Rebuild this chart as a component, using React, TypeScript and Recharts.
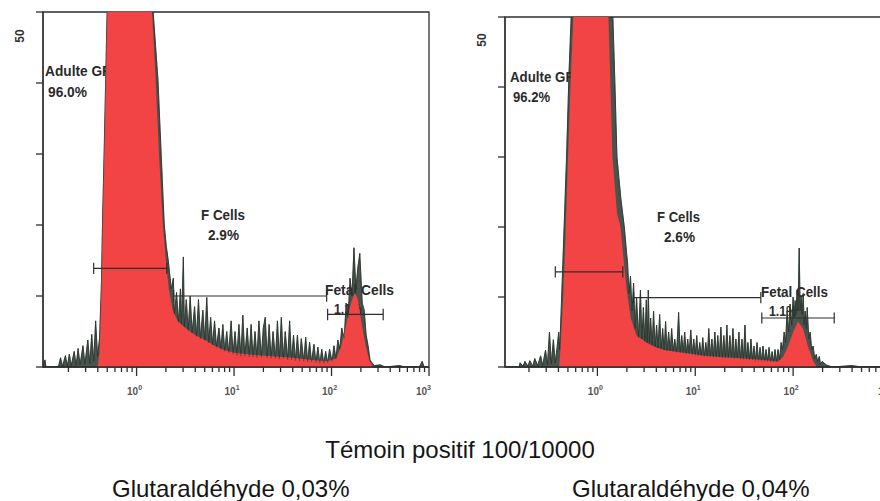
import React from 'react';
import {
  ComposedChart,
  Area,
  Line,
  XAxis,
  YAxis,
  ReferenceLine,
  ReferenceArea,
} from 'recharts';

// x = log10 of fluorescence, v = event count per channel
const LEFT_FILL: [number, number][] = [
  [-0.96, 0], [-0.4, 0], [-0.38, 2], [-0.36, 12], [-0.35, 20], [-0.33, 32], [-0.31, 45],
  [-0.29, 58], [-0.2, 85], [0, 95], [0.1, 80], [0.15, 52], [0.19, 42], [0.23, 30],
  [0.27, 20], [0.3, 15], [0.33, 11], [0.37, 8], [0.42, 6.5], [0.5, 5.5], [0.6, 4.5],
  [0.7, 3.8], [0.8, 3], [0.9, 2.4], [1.0, 2], [1.2, 1.7], [1.4, 1.5], [1.6, 1.3],
  [1.8, 1.0], [1.95, 0.8], [2.05, 1.2], [2.1, 3], [2.15, 6], [2.2, 9], [2.24, 10.5],
  [2.27, 9.5], [2.31, 6], [2.35, 3], [2.39, 0.8], [2.43, 0], [3.0, 0],
];

const LEFT_OUTLINE: [number, number][] = [
  [-0.96, 0], [-0.94, 1.0], [-0.93, 0], [-0.85, 0], [-0.8, 0.1], [-0.78, 1.3], [-0.76, 0.1],
  [-0.73, 1.6], [-0.71, 0.1], [-0.69, 1.8], [-0.67, 0.2], [-0.64, 2.2], [-0.62, 0.2],
  [-0.6, 2.6], [-0.58, 0.3], [-0.55, 3.0], [-0.53, 0.4], [-0.5, 3.8], [-0.48, 0.5],
  [-0.46, 4.6], [-0.44, 0.8], [-0.42, 6.5], [-0.4, 1.5], [-0.38, 4], [-0.36, 12],
  [-0.35, 20], [-0.33, 32], [-0.31, 45], [-0.29, 58], [-0.25, 75], [-0.2, 88], [-0.1, 95],
  [0, 98], [0.08, 90], [0.13, 70], [0.17, 50], [0.22, 40.3], [0.253, 29.7], [0.284, 20],
  [0.305, 17], [0.325, 15], [0.356, 11], [0.377, 12.5], [0.388, 7.5], [0.41, 10.5],
  [0.43, 6.3], [0.45, 11], [0.46, 6], [0.48, 15.5], [0.49, 5.7], [0.51, 9.5], [0.53, 5.2],
  [0.55, 10], [0.57, 4.8], [0.595, 8.5], [0.615, 4.3], [0.635, 9.5], [0.655, 4], [0.68, 8],
  [0.7, 3.8], [0.72, 9.8], [0.74, 3.4], [0.76, 7], [0.78, 3.1], [0.8, 6.5], [0.82, 2.8],
  [0.845, 5.5], [0.865, 2.5], [0.885, 6], [0.905, 2.2], [0.925, 5], [0.945, 2], [0.97, 6.5],
  [0.99, 1.8], [1.01, 5], [1.03, 1.6], [1.05, 6], [1.07, 1.5], [1.09, 7.3], [1.11, 1.5],
  [1.135, 5.5], [1.155, 1.4], [1.175, 6], [1.195, 1.4], [1.215, 5], [1.235, 1.3],
  [1.255, 6.5], [1.28, 1.4], [1.3, 5.5], [1.32, 7], [1.34, 1.3], [1.36, 6], [1.38, 1.2],
  [1.4, 5], [1.425, 1.2], [1.445, 6.5], [1.465, 1.1], [1.485, 7], [1.505, 1.2], [1.525, 5],
  [1.55, 1.0], [1.57, 6.5], [1.59, 1.0], [1.61, 4.5], [1.63, 0.9], [1.65, 4.5], [1.67, 0.8],
  [1.69, 4], [1.715, 0.8], [1.735, 4.2], [1.755, 0.7], [1.775, 3.5], [1.795, 0.7],
  [1.82, 3.2], [1.84, 0.6], [1.86, 2.8], [1.88, 0.5], [1.9, 2.5], [1.92, 0.5], [1.94, 2.2],
  [1.96, 0.6], [1.98, 2.5], [2.005, 0.8], [2.025, 3], [2.045, 1.2], [2.065, 3.8],
  [2.085, 2.5], [2.105, 5.5], [2.13, 4], [2.15, 9], [2.17, 7], [2.19, 12.5], [2.21, 10],
  [2.23, 16.8], [2.25, 11], [2.27, 14], [2.29, 16], [2.315, 9], [2.335, 8], [2.355, 4.5],
  [2.375, 3], [2.395, 1], [2.415, 0.6], [2.44, 0.2], [2.5, 0.3], [2.55, 0], [2.7, 0.2],
  [2.75, 0], [2.9, 0], [2.93, 0.8], [2.95, 0], [3.0, 0],
];

const RIGHT_FILL: [number, number][] = [
  [-0.944, 0], [-0.39, 0], [-0.38, 2], [-0.35, 10], [-0.33, 17], [-0.3, 30], [-0.27, 42],
  [-0.245, 50], [-0.15, 75], [0, 90], [0.08, 80], [0.113, 50], [0.154, 30], [0.2, 22],
  [0.236, 20], [0.27, 15], [0.3, 11], [0.34, 7], [0.4, 4.5], [0.5, 3.5], [0.6, 2.8],
  [0.7, 2.4], [0.9, 2], [1.1, 1.6], [1.3, 1.4], [1.5, 1.2], [1.7, 1], [1.85, 0.8],
  [1.9, 1.5], [1.95, 3], [2.0, 5], [2.05, 6.5], [2.1, 5.5], [2.15, 3], [2.2, 1],
  [2.24, 0], [3.0, 0],
];

const RIGHT_OUTLINE: [number, number][] = [
  [-0.944, 0], [-0.8, 0], [-0.79, 0.6], [-0.76, 0.1], [-0.74, 0.8], [-0.71, 0.1],
  [-0.69, 0.9], [-0.66, 0.1], [-0.64, 1.2], [-0.61, 0.2], [-0.58, 1.6], [-0.56, 0.2],
  [-0.53, 2.4], [-0.51, 0.3], [-0.49, 5], [-0.47, 0.5], [-0.45, 3.9], [-0.43, 0.6],
  [-0.41, 3], [-0.395, 5], [-0.385, 2.5], [-0.365, 10], [-0.345, 18], [-0.315, 30],
  [-0.29, 42], [-0.268, 50], [-0.2, 70], [-0.1, 85], [0, 95], [0.1, 82], [0.14, 58],
  [0.158, 50], [0.18, 40], [0.2, 30], [0.24, 24], [0.275, 20], [0.3, 16], [0.308, 15],
  [0.323, 10.5], [0.338, 13], [0.354, 8], [0.37, 12], [0.385, 5.5], [0.4, 10], [0.42, 4.2],
  [0.44, 11], [0.455, 4], [0.47, 8.5], [0.485, 3.7], [0.5, 9.6], [0.51, 3.5], [0.52, 11],
  [0.532, 3.4], [0.544, 7], [0.56, 3.1], [0.574, 8], [0.59, 2.9], [0.605, 6], [0.62, 2.7],
  [0.636, 7.5], [0.652, 2.6], [0.667, 5.5], [0.682, 2.4], [0.697, 6.5], [0.712, 2.3],
  [0.728, 5], [0.744, 2.3], [0.759, 5.5], [0.775, 2.2], [0.79, 4], [0.81, 2.1], [0.83, 7.8],
  [0.846, 2.0], [0.862, 4.5], [0.877, 2.0], [0.892, 5], [0.908, 1.9], [0.923, 4],
  [0.938, 1.9], [0.954, 5.3], [0.97, 1.8], [0.985, 4], [1.0, 1.7], [1.015, 4.5],
  [1.03, 1.6], [1.046, 3.5], [1.062, 1.6], [1.077, 4.2], [1.092, 1.5], [1.108, 3.5],
  [1.123, 1.5], [1.138, 5.5], [1.154, 1.5], [1.17, 4], [1.185, 1.4], [1.2, 5], [1.215, 1.4],
  [1.23, 4.5], [1.246, 1.4], [1.262, 5.7], [1.277, 1.3], [1.292, 4.5], [1.308, 1.3],
  [1.323, 6], [1.338, 1.3], [1.354, 4.5], [1.37, 1.3], [1.385, 5.5], [1.4, 1.2], [1.415, 4],
  [1.43, 1.2], [1.446, 5], [1.462, 1.1], [1.477, 4], [1.492, 1.1], [1.508, 6], [1.523, 1.1],
  [1.538, 3.5], [1.554, 1.0], [1.569, 4], [1.585, 1.0], [1.6, 3], [1.615, 0.9],
  [1.631, 3.5], [1.646, 0.9], [1.662, 2.8], [1.677, 0.8], [1.692, 3], [1.708, 0.8],
  [1.723, 2.5], [1.738, 0.8], [1.754, 2.8], [1.77, 0.7], [1.785, 2.2], [1.8, 0.7],
  [1.815, 2.5], [1.83, 0.8], [1.846, 2.5], [1.862, 1.0], [1.877, 3.5], [1.892, 2.5],
  [1.908, 5], [1.923, 3.5], [1.938, 8], [1.954, 5], [1.969, 9], [1.985, 6], [2.0, 10],
  [2.01, 7], [2.02, 9.5], [2.03, 8], [2.04, 11], [2.05, 8], [2.062, 17], [2.072, 8],
  [2.082, 10], [2.092, 7.5], [2.103, 10.5], [2.113, 6], [2.123, 8], [2.134, 5.5],
  [2.144, 8.5], [2.16, 4], [2.174, 5], [2.19, 2.5], [2.205, 3], [2.22, 1.2], [2.236, 1.8],
  [2.25, 0.8], [2.267, 1.5], [2.28, 0.4], [2.297, 0.8], [2.338, 0.3], [2.4, 0], [2.6, 0.2],
  [2.7, 0], [3.0, 0],
];

// gates: [from, to, level]
const LEFT_GATES: [number, number, number][] = [
  [-0.44, 0.31, 13.9],
  [0.38, 1.95, 10.0],
  [1.96, 2.53, 7.4],
];
const RIGHT_GATES: [number, number, number][] = [
  [-0.43, 0.26, 13.6],
  [0.37, 1.67, 9.9],
  [1.68, 2.42, 7.0],
];

const LEFT_LABELS = ['Adulte GR', '96.0%', 'F Cells', '2.9%', 'Fetal Cells', '1.1%'];
const RIGHT_LABELS = ['Adulte GR', '96.2%', 'F Cells', '2.6%', 'Fetal Cells', '1.1%'];

const Y_TICKS = [0, 10, 20, 30, 40, 50];
const DECADES = [0, 1, 2, 3];
const MINOR_STEPS = [2, 3, 4, 5, 6, 7, 8, 9];
const X_TICKS = [
  ...DECADES,
  ...[-1, 0, 1, 2].flatMap((d) => MINOR_STEPS.map((m) => d + Math.log10(m))),
].sort((a, b) => a - b);

const TITLE = 'Témoin positif 100/10000';
const CAPTIONS = ['Glutaraldéhyde 0,03%', 'Glutaraldéhyde 0,04%'];

const RED = '#f24444';
const DARK = '#2a362f';
const AXIS = '#2e2e2e';
const SANS = '"Liberation Sans", Arial, sans-serif';

const toPoints = (pairs: [number, number][]) => pairs.map(([x, v]) => ({ x, v }));

function LogTick(props: any) {
  const { x, y, payload, xMax } = props;
  const v = payload.value;
  const major = Math.abs(v - Math.round(v)) < 1e-6;
  const last = Math.abs(v - xMax) < 0.05;
  return (
    <g>
      <line x1={x} y1={y} x2={x} y2={y + (major ? 9 : 5)} stroke={AXIS} strokeWidth={1.3} />
      {major && (
        <text
          x={last ? x + 2 : x - 2}
          y={y + 28}
          textAnchor={last ? 'end' : 'middle'}
          fontSize={10}
          fontWeight="bold"
          fontFamily={SANS}
          fill="#555"
        >
          10
          <tspan dy={-5} fontSize={7}>{Math.round(v)}</tspan>
        </text>
      )}
    </g>
  );
}

function CountTick(props: any) {
  const { x, y } = props;
  return <line x1={x - 7} y1={y} x2={x} y2={y} stroke={AXIS} strokeWidth={1.3} />;
}

function Histogram({ fill, outline, gates, xMin, left, top }: any) {
  const fillData = toPoints(fill);
  const outlineData = toPoints(outline);
  return (
    <div style={{ position: 'absolute', left, top: 0 }}>
      <ComposedChart width={440} height={400} margin={{ top, right: 11, bottom: 3, left: 0 }}>
        <XAxis
          type="number"
          dataKey="x"
          domain={[xMin, 3]}
          allowDataOverflow
          ticks={X_TICKS.filter((t) => t >= xMin && t <= 3)}
          interval={0}
          tickSize={0}
          tickMargin={0}
          tickLine={false}
          tick={<LogTick xMax={3} />}
          height={30}
          axisLine={{ stroke: AXIS, strokeWidth: 1.3 }}
        />
        <YAxis
          type="number"
          domain={[0, 50]}
          allowDataOverflow
          ticks={Y_TICKS}
          interval={0}
          tickSize={0}
          tickMargin={0}
          tickLine={false}
          tick={<CountTick />}
          width={43}
          axisLine={{ stroke: AXIS, strokeWidth: 1.3 }}
        />
        <ReferenceArea x1={xMin} x2={3} y1={0} y2={50} fill="none" stroke={AXIS} strokeWidth={1.3} fillOpacity={0} />
        <Area
          data={outlineData}
          dataKey="v"
          type="linear"
          fill={DARK}
          fillOpacity={0.85}
          stroke={DARK}
          strokeWidth={0.9}
          isAnimationActive={false}
        />
        <Area
          data={fillData}
          dataKey="v"
          type="linear"
          fill={RED}
          fillOpacity={1}
          stroke="none"
          isAnimationActive={false}
        />
        <Line
          data={outlineData}
          dataKey="v"
          type="linear"
          stroke={DARK}
          strokeWidth={0.7}
          strokeOpacity={0.5}
          dot={false}
          isAnimationActive={false}
        />
        {gates.map(([a, b, h]: [number, number, number], i: number) => (
          <React.Fragment key={i}>
            <ReferenceLine segment={[{ x: a, y: h }, { x: b, y: h }]} stroke={AXIS} strokeWidth={1.2} />
            <ReferenceLine segment={[{ x: a, y: h - 0.8 }, { x: a, y: h + 0.8 }]} stroke={AXIS} strokeWidth={1.2} />
            <ReferenceLine segment={[{ x: b, y: h - 0.8 }, { x: b, y: h + 0.8 }]} stroke={AXIS} strokeWidth={1.2} />
          </React.Fragment>
        ))}
      </ComposedChart>
    </div>
  );
}

// [x, baseline, width]
type Spot = [number, number, number];

function PanelLabels({ labels, spots }: { labels: string[]; spots: Spot[] }) {
  return (
    <>
      {labels.map((t, i) => (
        <text
          key={i}
          x={spots[i][0]}
          y={spots[i][1]}
          textLength={spots[i][2]}
          lengthAdjust="spacingAndGlyphs"
          fontFamily={SANS}
          fontWeight="bold"
          fontSize={15}
          fill="#2a2a2a"
        >
          {t}
        </text>
      ))}
    </>
  );
}

export default function App() {
  return (
    <div
      style={{
        position: 'absolute',
        left: 0,
        top: 0,
        width: 880,
        height: 501,
        overflow: 'hidden',
        background: '#fff',
      }}
    >
      <svg width={880} height={501} style={{ position: 'absolute', left: 0, top: 0 }}>
        <text x={20} y={36} transform="rotate(-90 20 36)" textAnchor="middle" dominantBaseline="central"
          fontFamily={SANS} fontWeight="bold" fontSize={12} fill="#333">50</text>
        <text x={482} y={40} transform="rotate(-90 482 40)" textAnchor="middle" dominantBaseline="central"
          fontFamily={SANS} fontWeight="bold" fontSize={12} fill="#333">50</text>
        <PanelLabels
          labels={LEFT_LABELS}
          spots={[[45, 76, 67], [48, 97, 39], [201, 220, 44], [208, 240, 31], [325, 295, 69], [334, 314, 28]]}
        />
        <PanelLabels
          labels={RIGHT_LABELS}
          spots={[[510, 82, 65], [513, 102, 37], [657, 222, 43], [664, 242, 31], [761, 297, 67], [769, 316, 28]]}
        />
        <text x={460} y={458} textAnchor="middle" fontFamily={SANS} fontSize={24} fill="#151515">{TITLE}</text>
        <text x={112} y={497} fontFamily={SANS} fontSize={24} fill="#151515">{CAPTIONS[0]}</text>
        <text x={572} y={497} fontFamily={SANS} fontSize={24} fill="#151515">{CAPTIONS[1]}</text>
      </svg>
      <Histogram fill={LEFT_FILL} outline={LEFT_OUTLINE} gates={LEFT_GATES} xMin={-0.96} left={0} top={12} />
      <Histogram fill={RIGHT_FILL} outline={RIGHT_OUTLINE} gates={RIGHT_GATES} xMin={-0.944} left={462} top={17} />
    </div>
  );
}
